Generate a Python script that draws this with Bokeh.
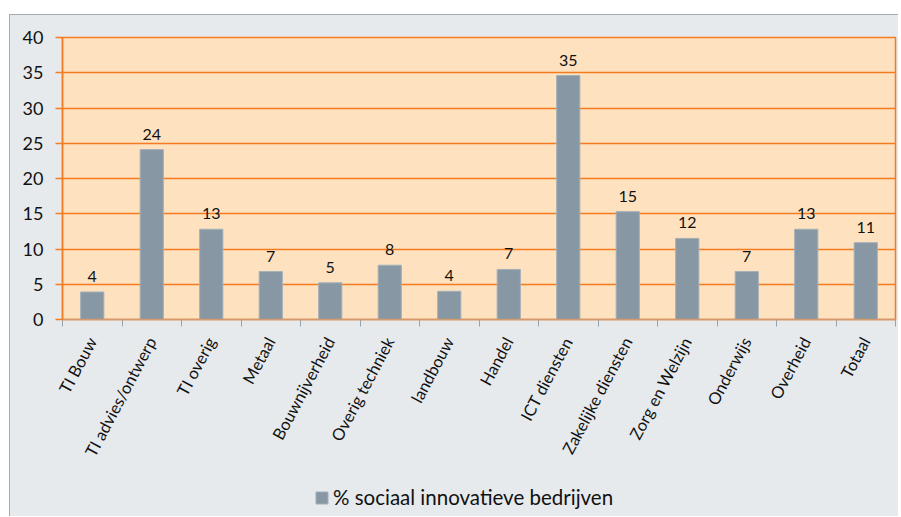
import math
from bokeh.plotting import figure
from bokeh.layouts import column
from bokeh.models import ColumnDataSource, FixedTicker, LabelSet, Legend, LegendItem, Range1d
from bokeh.embed import file_html
from bokeh.resources import INLINE
from bokeh.core.properties import value

categories = ["TI Bouw", "TI advies/ontwerp", "TI overig", "Metaal", "Bouwnijverheid",
              "Overig techniek", "landbouw", "Handel", "ICT diensten", "Zakelijke diensten",
              "Zorg en Welzijn", "Onderwijs", "Overheid", "Totaal"]
values = [3.9, 24.1, 12.8, 6.8, 5.2, 7.7, 4.0, 7.1, 34.6, 15.3, 11.5, 6.8, 12.8, 10.9]
value_labels = ["4", "24", "13", "7", "5", "8", "4", "7", "35", "15", "12", "7", "13", "11"]
y_ticks = [0, 5, 10, 15, 20, 25, 30, 35, 40]
series_name = "% sociaal innovatieve bedrijven"

FONT = "Lato"
BG = "#E6EAED"
BAR = "#8797A3"
BAR_EDGE = "#A4B0BA"
xpos = list(range(len(categories)))
src = ColumnDataSource(dict(x=xpos, top=values, lab=value_labels))

p = figure(width=888, height=460, output_backend="svg", toolbar_location=None,
           x_range=Range1d(-0.5, len(categories) - 0.5), y_range=Range1d(0, 40),
           min_border_left=52, min_border_right=3, min_border_top=22, min_border_bottom=156)
p.border_fill_color = BG
p.background_fill_color = "#FEE1BF"
p.outline_line_color = "#F47B20"
p.outline_line_width = 1.5

r = p.vbar(x="x", top="top", width=0.39, source=src, fill_color=BAR, line_color=BAR_EDGE, line_width=1)

p.add_layout(LabelSet(x="x", y="top", text="lab", source=src, text_align="center",
                      text_baseline="bottom", y_offset=10, text_font=value(FONT),
                      text_font_size="16px", text_color="#111111"))

# y axis
ya = p.yaxis[0]
ya.ticker = FixedTicker(ticks=y_ticks)
ya.axis_line_color = "#F47B20"
ya.axis_line_width = 1.5
ya.major_tick_line_color = "#F47B20"
ya.major_tick_line_width = 1.5
ya.major_tick_out = 7
ya.major_tick_in = 0
ya.minor_tick_line_color = None
ya.major_label_text_font = FONT
ya.major_label_text_font_size = "18px"
ya.major_label_text_color = "#111111"
ya.major_label_standoff = 12

# x axis
xa = p.xaxis[0]
xa.ticker = FixedTicker(ticks=xpos, minor_ticks=[i - 0.5 for i in range(len(categories) + 1)])
xa.major_label_overrides = {i: c for i, c in enumerate(categories)}
xa.major_label_orientation = math.radians(62)
xa.major_label_text_font = FONT
xa.major_label_text_font_size = "16.5px"
xa.major_label_text_color = "#111111"
xa.major_tick_line_color = None
xa.minor_tick_line_color = "#9AA3AA"
xa.minor_tick_out = 7
xa.minor_tick_in = 0
xa.axis_line_color = "#D39A70"
xa.axis_line_width = 1.5
xa.major_label_standoff = 12

p.xgrid.grid_line_color = None
p.ygrid.ticker = FixedTicker(ticks=y_ticks)
p.ygrid.grid_line_color = "#F47B20"
p.ygrid.grid_line_width = 1.5

# legend strip below the chart
q = figure(width=888, height=41, output_backend="svg", toolbar_location=None,
           x_range=Range1d(0, 1), y_range=Range1d(0, 1),
           min_border_left=52, min_border_right=3, min_border_top=0, min_border_bottom=0)
q.axis.visible = False
q.grid.visible = False
q.border_fill_color = BG
q.background_fill_color = BG
q.outline_line_color = None
lr = q.vbar(x=[0.5], top=[-2], bottom=[-3], width=0.1, fill_color=BAR, line_color=BAR_EDGE)
legend = Legend(items=[LegendItem(label=series_name, renderers=[lr])], location=(252, 7),
                orientation="horizontal", background_fill_alpha=0, border_line_color=None,
                label_text_font=FONT, label_text_font_size="20.5px", label_text_color="#111111",
                glyph_width=15, glyph_height=15, margin=0, padding=0, label_standoff=4)
q.add_layout(legend, "center")

layout = column(p, q, spacing=0)
layout.styles = {"margin-left": "9px", "margin-top": "14px", "background-color": BG,
                 "border-left": "1px solid #A3ADB5", "border-top": "1px solid #A3ADB5"}
open("out.html", "w").write(file_html(layout, INLINE))
